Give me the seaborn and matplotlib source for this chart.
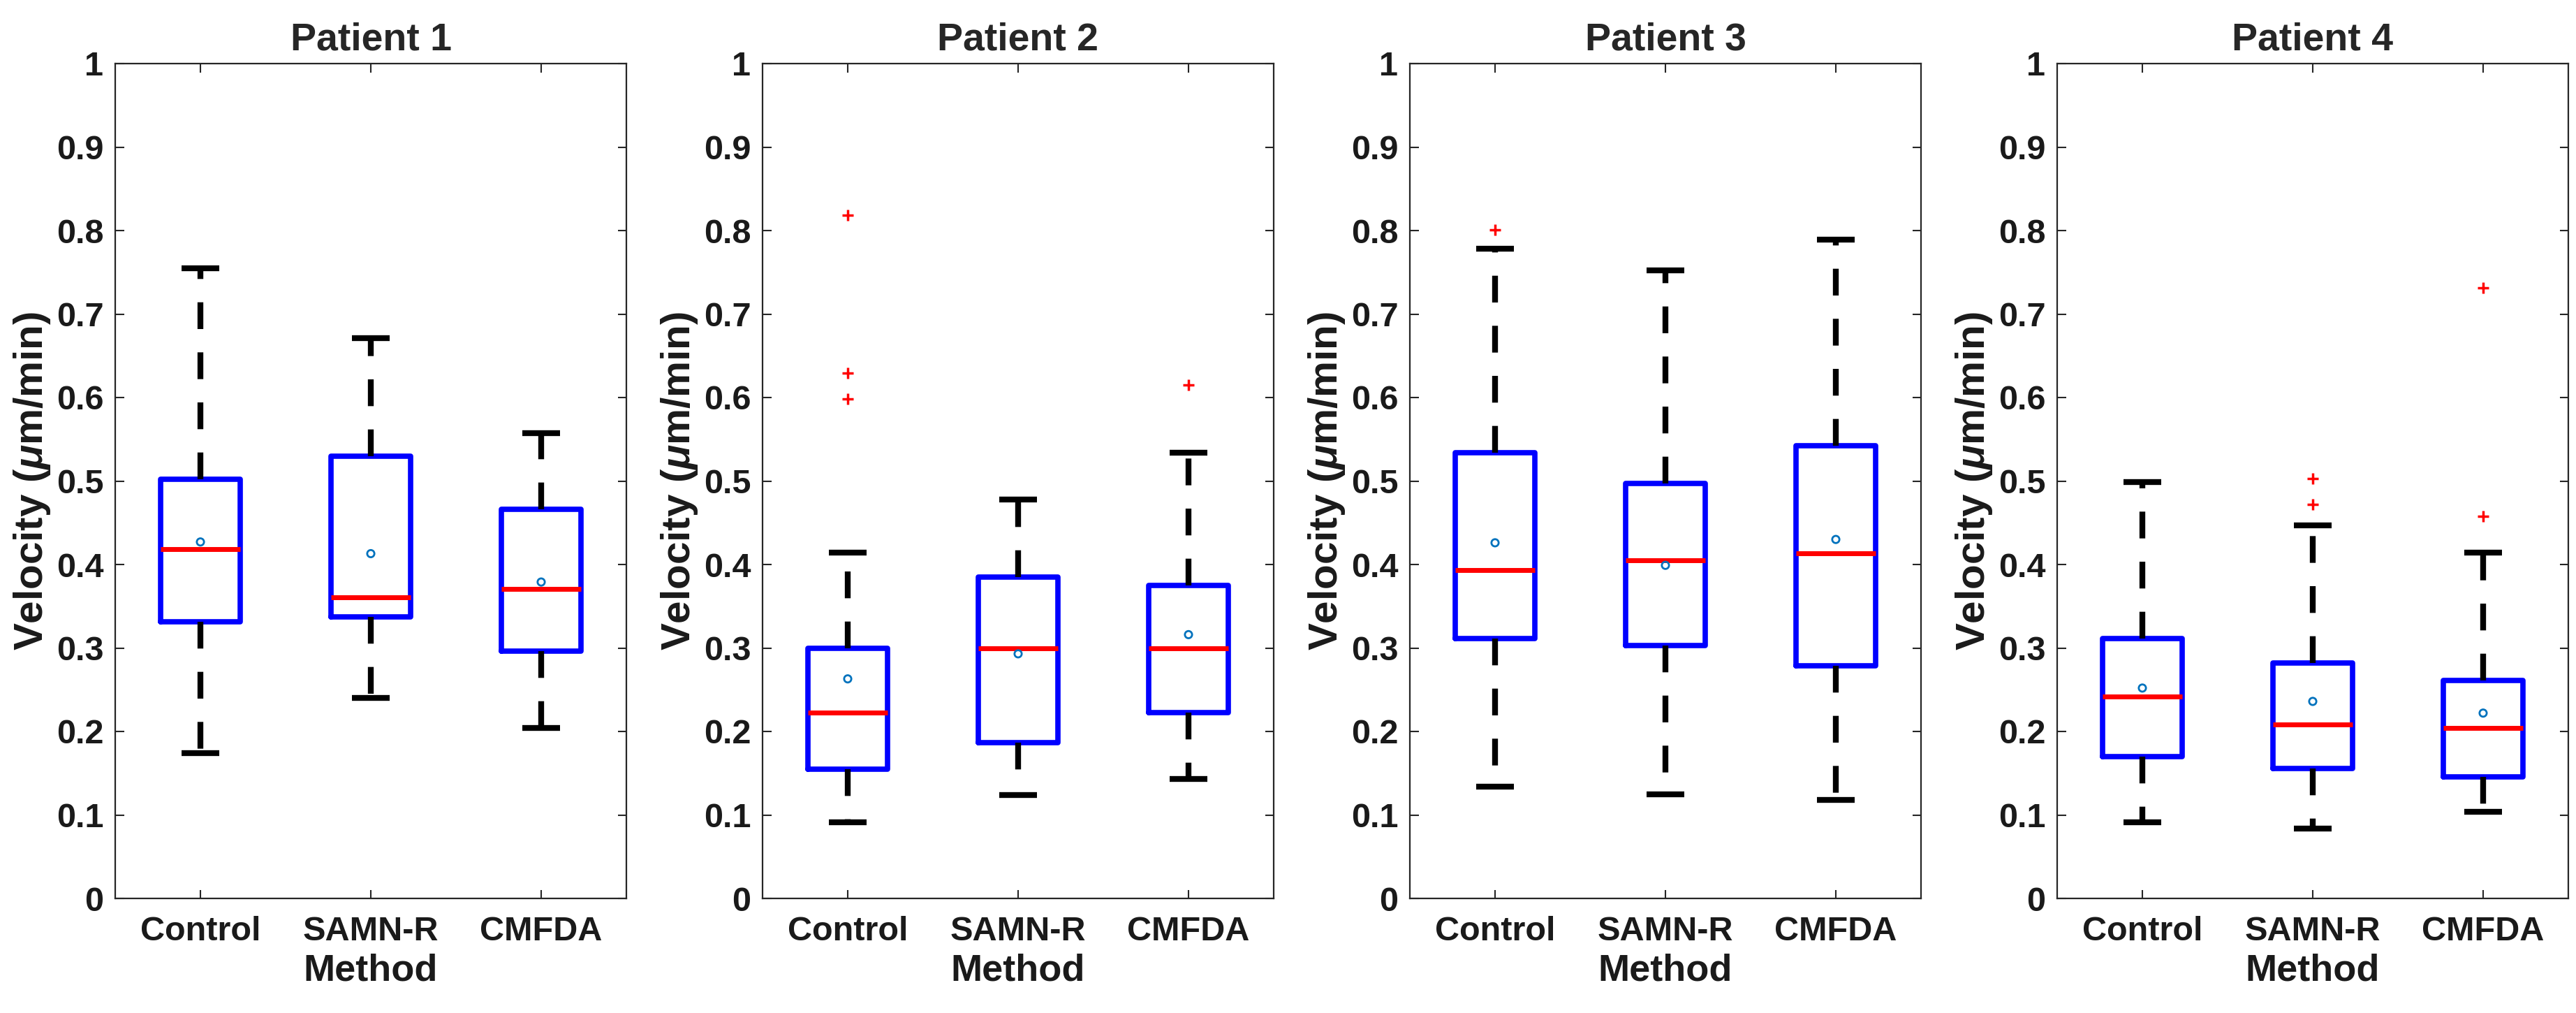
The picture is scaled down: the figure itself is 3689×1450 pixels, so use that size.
import os

os.environ.setdefault("MPLCONFIGDIR", "/tmp/matplotlib")

import matplotlib

matplotlib.use("Agg")
import matplotlib.pyplot as plt
import pandas as pd
import seaborn as sns


PATIENTS = ["Patient 1", "Patient 2", "Patient 3", "Patient 4"]
METHODS = ["Control", "SAMN-R", "CMFDA"]

# box summaries, one row per patient, one column per method
WHISKER_LOW = [
    [0.174, 0.240, 0.204],
    [0.091, 0.124, 0.143],
    [0.134, 0.125, 0.118],
    [0.091, 0.084, 0.104],
]
Q1 = [
    [0.331, 0.337, 0.296],
    [0.155, 0.187, 0.223],
    [0.311, 0.303, 0.279],
    [0.170, 0.156, 0.146],
]
MEDIAN = [
    [0.418, 0.361, 0.371],
    [0.223, 0.300, 0.300],
    [0.393, 0.405, 0.413],
    [0.242, 0.208, 0.204],
]
Q3 = [
    [0.502, 0.530, 0.466],
    [0.300, 0.385, 0.375],
    [0.534, 0.497, 0.542],
    [0.311, 0.282, 0.261],
]
WHISKER_HIGH = [
    [0.755, 0.671, 0.557],
    [0.414, 0.478, 0.534],
    [0.778, 0.752, 0.789],
    [0.499, 0.447, 0.414],
]
MEAN = [
    [0.427, 0.413, 0.379],
    [0.263, 0.293, 0.316],
    [0.426, 0.399, 0.430],
    [0.252, 0.236, 0.222],
]
OUTLIERS = [
    [[], [], []],
    [[0.818, 0.629, 0.598], [], [0.615]],
    [[0.801], [], []],
    [[], [0.503, 0.472], [0.731, 0.458]],
]

BOX_BLUE = (0.0, 0.0, 1.0)
MEAN_BLUE = (0.0, 0.447, 0.741)
AXIS_GREY = (0.15, 0.15, 0.15)
TEXT_DARK = "#1a1a1a"

sns.set_theme(style="ticks")
plt.rcParams["font.family"] = ["Liberation Sans", "DejaVu Sans"]
plt.rcParams["font.weight"] = "bold"
plt.rcParams["mathtext.fontset"] = "custom"
plt.rcParams["mathtext.it"] = "Liberation Sans:italic:bold"
plt.rcParams["mathtext.rm"] = "Liberation Sans:bold"

fig = plt.figure(figsize=(36.89, 14.5), dpi=100)

left0 = 165 / 3689
step = 927 / 3689
width = 732 / 3689
bottom = 1 - 1286 / 1450
height = (1286 - 91) / 1450

positions = list(range(1, len(METHODS) + 1))

for p, patient in enumerate(PATIENTS):
    ax = fig.add_axes([left0 + p * step, bottom, width, height])

    stats = []
    for m, method in enumerate(METHODS):
        stats.append(
            {
                "label": method,
                "whislo": WHISKER_LOW[p][m],
                "q1": Q1[p][m],
                "med": MEDIAN[p][m],
                "q3": Q3[p][m],
                "whishi": WHISKER_HIGH[p][m],
                "fliers": [],
            }
        )

    ax.bxp(
        stats,
        positions=positions,
        widths=0.47,
        capwidths=0.22,
        showfliers=False,
        manage_ticks=False,
        boxprops={"color": BOX_BLUE, "linewidth": 5.5},
        medianprops={"color": "red", "linewidth": 5, "solid_capstyle": "butt"},
        whiskerprops={
            "color": "black",
            "linewidth": 6,
            "linestyle": (0, (4.6, 4.0)),
            "dash_capstyle": "butt",
        },
        capprops={"color": "black", "linewidth": 6, "solid_capstyle": "butt"},
    )

    means = pd.DataFrame({"x": positions, "y": MEAN[p]})
    sns.scatterplot(
        data=means,
        x="x",
        y="y",
        ax=ax,
        marker="o",
        s=55,
        color="none",
        edgecolor=MEAN_BLUE,
        linewidth=2,
        zorder=5,
    )

    rows = []
    for m in range(len(METHODS)):
        for value in OUTLIERS[p][m]:
            rows.append({"x": positions[m], "y": value})
    if rows:
        sns.scatterplot(
            data=pd.DataFrame(rows),
            x="x",
            y="y",
            ax=ax,
            marker="+",
            s=130,
            color="red",
            linewidth=2.5,
            zorder=5,
        )

    ax.set_xlim(0.5, len(METHODS) + 0.5)
    ax.set_ylim(0, 1)
    ax.set_xticks(positions, METHODS)
    yticks = [i / 10 for i in range(11)]
    ax.set_yticks(yticks, [f"{t:g}" for t in yticks])
    ax.tick_params(
        direction="in",
        length=9,
        width=1.5,
        color=AXIS_GREY,
        labelsize=35,
        labelcolor=TEXT_DARK,
        top=True,
        right=True,
    )
    ax.tick_params(axis="x", pad=18)
    ax.tick_params(axis="y", pad=12)
    for spine in ax.spines.values():
        spine.set_visible(True)
        spine.set_color(AXIS_GREY)
        spine.set_linewidth(1.6)

    ax.set_title(patient, fontsize=40, fontweight="bold", pad=14)
    ax.set_xlabel("Method", fontsize=39, fontweight="bold", labelpad=6, color=TEXT_DARK)
    ax.set_ylabel(
        r"Velocity ($\mu$m/min)", fontsize=42, fontweight="bold", labelpad=4, color=TEXT_DARK
    )

fig.savefig("out.png", dpi=100, facecolor="white")
plt.close(fig)
